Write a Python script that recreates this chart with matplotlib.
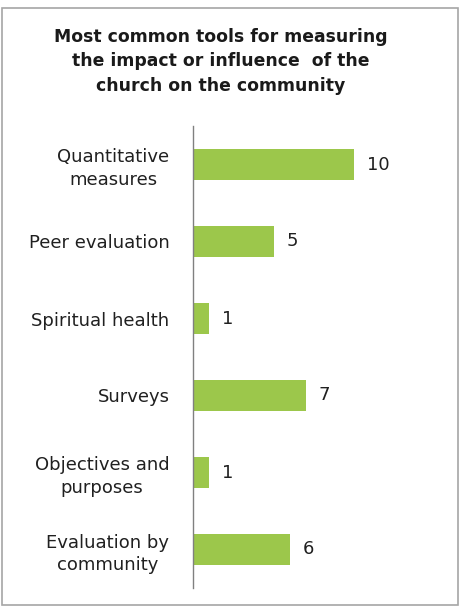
import matplotlib
matplotlib.use("Agg")
import matplotlib.pyplot as plt
from matplotlib.patches import Rectangle

categories = ["Quantitative\nmeasures", "Peer evaluation", "Spiritual health",
              "Surveys", "Objectives and\npurposes", "Evaluation by\ncommunity"]
counts = [10, 5, 1, 7, 1, 6]

title = "Most common tools for measuring\nthe impact or influence  of the\nchurch on the community"

bar_color = "#9cc74b"
text_color = "#202020"

fig = plt.figure(figsize=(4.61, 6.08), dpi=100)
fig.patch.set_facecolor("white")

# outer frame
fig.patches.append(Rectangle((2 / 461, 3 / 608), 456 / 461, 597 / 608,
                             transform=fig.transFigure, fill=False,
                             edgecolor="#a6a6a6", linewidth=1.2))

ax = fig.add_axes([193 / 461, 20 / 608, 250 / 461, 462 / 608])
ypos = list(range(len(categories)))
ax.barh(ypos, counts, height=0.4, color=bar_color)
ax.set_ylim(len(categories) - 0.5, -0.5)
ax.set_xlim(0, 250 / 16.1)

ax.set_yticks(ypos)
ax.set_yticklabels(categories, fontsize=13, color=text_color, linespacing=1.3)
for lbl in ax.get_yticklabels():
    lbl.set_multialignment("center")
ax.tick_params(axis="y", length=0, pad=17)
ax.set_xticks([])

for s in ["top", "right", "bottom"]:
    ax.spines[s].set_visible(False)
ax.spines["left"].set_color("#808080")
ax.spines["left"].set_linewidth(1.0)

for y, v in zip(ypos, counts):
    ax.annotate(str(v), (v, y), xytext=(9.5, 0), textcoords="offset points",
                va="center", ha="left", fontsize=13, color=text_color)

fig.text(221 / 461, 1 - 61.5 / 608, title, ha="center", va="center",
         fontsize=12.4, fontweight="bold", color="#1a1a1a", linespacing=1.45)

fig.savefig("out.png", dpi=100)
